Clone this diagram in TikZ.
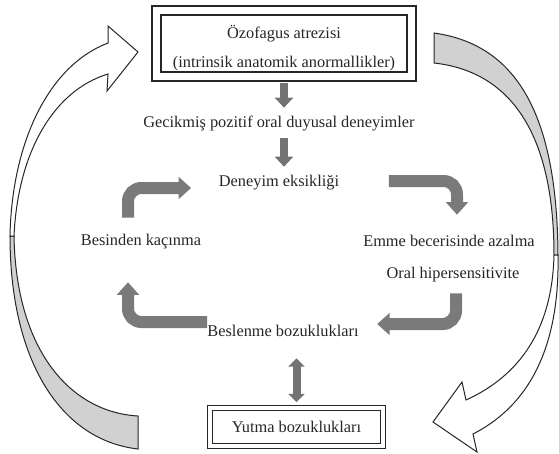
\documentclass[tikz,border=0pt]{standalone}
\usepackage{fontspec}
\setmainfont{Liberation Serif}
\usetikzlibrary{arrows.meta, positioning, calc}

\begin{document}
\begin{tikzpicture}[
  x=0.6pt, y=-0.6pt, font=\fontsize{9.8}{11.8}\selectfont,
  lbl/.style={text=black!85, inner sep=3pt, text height=6.8pt, text depth=2.2pt},
  dblbox/.style={draw=black!85, line width=0.9pt, double=white,
                 double distance=#1, align=center, text=black!85},
  downarrow/.style={draw=black!55, line width=4.8pt,
                    -{Triangle[width=10.8pt, length=6pt]}},
  bentarrow/.style={draw=black!52, line width=7.2pt, rounded corners=8pt,
                    -{Triangle[width=13pt, length=7.5pt]}},
  biarrow/.style={draw=black!55, line width=4.8pt,
                  {Triangle[width=9.6pt, length=5pt]}-{Triangle[width=9.6pt, length=5pt]}},
  bigarrow/.style={draw=black!85, line width=0.6pt, line join=miter}
]

\useasboundingbox (0,0) rectangle (559,453);

\node[dblbox=4.5pt, minimum width=153pt, minimum height=36.6pt] (ozo) at (284,43.5)
  {\rule{0pt}{13.5pt}Özofagus atrezisi\\[5.4pt](intrinsik anatomik anormallikler)};
\node[lbl] (gec)  at (279,124) {Gecikmiş pozitif oral duyusal deneyimler};
\node[lbl] (den)  at (279,183) {Deneyim eksikliği};
\node[lbl] (kac)  at (141,242) {Besinden kaçınma};
\node[lbl] (emme) at (449,243) {Emme becerisinde azalma};
\node[lbl] (oral) at (453,275) {Oral hipersensitivite};
\node[lbl] (bes)  at (283,333) {Beslenme bozuklukları};
\node[dblbox=2.1pt, minimum width=103.8pt, minimum height=22.8pt] (yut) at (296.5,427)
  {Yutma bozuklukları};

\draw[downarrow, shorten <=3.6pt, shorten >=2.1pt] (ozo.south) -- (ozo.south |- gec.north);
\draw[downarrow, shorten <=0.9pt, shorten >=2.1pt] (gec.south -| ozo.south) -- (ozo.south |- den.north);

\draw[bentarrow, shorten <=6.9pt, shorten >=13.5pt] ([xshift=-7.8pt]kac.north) |- ([yshift=-3pt]den.west);
\draw[bentarrow, shorten <=26.7pt, shorten >=9.3pt] ([yshift=1.2pt]den.east) -| ([xshift=4.8pt]emme.north);
\draw[bentarrow, shorten <=3.3pt, shorten >=8pt] ([xshift=1.8pt]oral.south) |- ([yshift=5.4pt]bes.east);
\draw[bentarrow, shorten >=16.5pt] ([xshift=3pt, yshift=6.6pt]bes.west) -| ([xshift=-7.8pt]kac.south);

\draw[biarrow, shorten <=7.5pt, shorten >=3pt] (bes.south -| yut.north) -- (yut.north);

\filldraw[bigarrow, fill=black!18]
  (10,236) .. controls (10,360) and (60,440) .. (138,449) -- (138,416)
  .. controls (70,412) and (16,350) .. (14,236) -- cycle;
\filldraw[bigarrow, fill=white]
  (10,236) .. controls (12,140) and (50,65) .. (108,43) -- (108,26) -- (138,52)
  -- (107,91) -- (108,74) .. controls (55,90) and (18,150) .. (14,236) -- cycle;

\filldraw[bigarrow, fill=black!18]
  (434,33) .. controls (520,45) and (557,120) .. (558,255) -- (554,255)
  .. controls (554,140) and (515,72) .. (434,63) -- cycle;
\filldraw[bigarrow, fill=white]
  (558,255) .. controls (560,360) and (520,410) .. (473,434) -- (477,452) -- (433,422)
  -- (462,382) -- (466,400) .. controls (510,380) and (552,340) .. (554,255) -- cycle;

\end{tikzpicture}
\end{document}
